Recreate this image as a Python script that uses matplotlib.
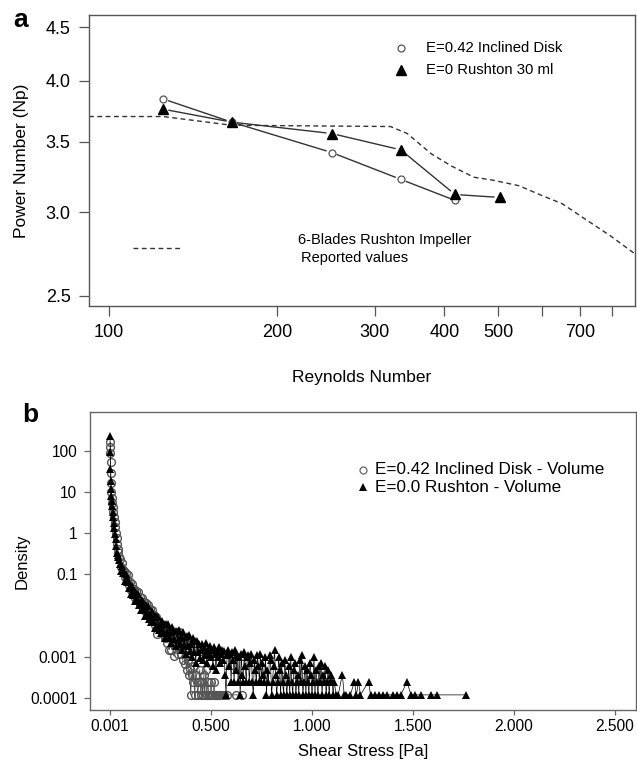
import numpy as np
import matplotlib
matplotlib.use("Agg")
import matplotlib.pyplot as plt
from matplotlib.ticker import FixedLocator, FixedFormatter, NullLocator

plt.rcParams['font.family'] = ['Liberation Sans', 'DejaVu Sans']

# ---- panel a: power number vs Reynolds number ----
disk_re = [125, 166, 251, 334, 418]
disk_np = [3.845, 3.655, 3.42, 3.225, 3.08]
rush_re = [125, 166, 251, 334, 418, 503]
rush_np = [3.76, 3.655, 3.565, 3.44, 3.12, 3.10]
# reported values, 6-blade Rushton impeller
ref_re = [92, 125, 166, 320, 343, 379, 412, 452, 488, 545, 597, 651, 707, 795, 880]
ref_np = [3.70, 3.70, 3.63, 3.62, 3.565, 3.41, 3.32, 3.24, 3.22, 3.18, 3.115, 3.058, 2.97, 2.85, 2.74]
re_ticks = [100, 200, 300, 400, 500, 600, 700, 800]
re_labels = ['100', '200', '300', '400', '500', '', '700', '']
np_ticks = [2.5, 3.0, 3.5, 4.0, 4.5]

# ---- panel b: shear stress density (E=0.42 inclined disk) ----
disk_x = [0.001, 0.002, 0.003, 0.004, 0.005, 0.006, 0.008, 0.010, 0.012, 0.015,
          0.018, 0.021, 0.024, 0.027, 0.030, 0.033, 0.036, 0.039, 0.042, 0.046,
          0.050, 0.055, 0.060, 0.065, 0.070, 0.075, 0.080, 0.085, 0.090, 0.095,
          0.100, 0.105, 0.110, 0.115, 0.120, 0.125, 0.130, 0.135, 0.140, 0.145,
          0.150, 0.155, 0.160, 0.165, 0.170, 0.175, 0.180, 0.185, 0.190, 0.195,
          0.200, 0.205, 0.210, 0.215, 0.220, 0.225, 0.230, 0.235, 0.240, 0.245,
          0.250, 0.255, 0.260, 0.265, 0.270, 0.275, 0.280, 0.285, 0.290, 0.295,
          0.300, 0.305, 0.310, 0.315, 0.320, 0.325, 0.330, 0.335, 0.340, 0.345,
          0.350, 0.355, 0.360, 0.365, 0.370, 0.375, 0.380, 0.385, 0.390, 0.395,
          0.400, 0.405, 0.410, 0.415, 0.420, 0.425, 0.430, 0.435, 0.440, 0.445,
          0.450, 0.455, 0.460, 0.465, 0.470, 0.475, 0.480, 0.485, 0.490, 0.495,
          0.500, 0.505, 0.510, 0.515, 0.520, 0.525, 0.530, 0.535, 0.540, 0.545,
          0.555, 0.565, 0.580, 0.625, 0.655]
disk_d = [160, 125, 85, 52, 29, 16, 10, 7.0, 5.5, 4.2,
          3.3, 2.5, 1.9, 1.4, 1.0, 0.75, 0.55, 0.42, 0.34, 0.27,
          0.23, 0.15, 0.19, 0.13, 0.12, 0.085, 0.108, 0.076, 0.094, 0.056,
          0.064, 0.042, 0.059, 0.039, 0.043, 0.027, 0.040, 0.026, 0.038, 0.023,
          0.029, 0.018, 0.027, 0.0167, 0.021, 0.0128, 0.0199, 0.0133, 0.0179, 0.0103,
          0.0144, 0.0090, 0.0135, 0.0082, 0.0104, 0.0059, 0.0094, 0.0036, 0.0075, 0.0047,
          0.0062, 0.0044, 0.0058, 0.0035, 0.0050, 0.0028, 0.0046, 0.0022, 0.0040, 0.0015,
          0.0038, 0.0015, 0.0032, 0.00105, 0.0028, 0.0019, 0.0025, 0.0012, 0.0039, 0.0016,
          0.0012, 0.0021, 0.00085, 0.0018, 0.00066, 0.0011, 0.00049, 0.00085, 0.00037, 0.0005,
          0.00012, 0.00037, 0.00025, 0.00061, 0.00012, 0.00037, 0.00025, 0.00012, 0.00025, 0.00049,
          0.00012, 0.00025, 0.00012, 0.00037, 0.00012, 0.00049, 0.00012, 0.00025, 0.00012, 0.00012,
          0.00025, 0.00012, 0.00012, 0.00025, 0.00012, 0.00012, 0.00012, 0.00012, 0.00012, 0.00012,
          0.00012, 0.00012, 0.00012, 0.00012, 0.00012]

# ---- panel b: shear stress density (E=0 Rushton) ----
rush_x = [0.001, 0.002, 0.003, 0.004, 0.005, 0.007, 0.009, 0.011, 0.014, 0.017,
          0.020, 0.023, 0.026, 0.029, 0.032, 0.035, 0.038, 0.041, 0.045,
          0.050, 0.055, 0.060, 0.065, 0.070, 0.075, 0.080, 0.085, 0.090, 0.095,
          0.100, 0.105, 0.110, 0.115, 0.120, 0.125, 0.130, 0.135, 0.140, 0.145,
          0.150, 0.155, 0.160, 0.165, 0.170, 0.175, 0.180, 0.185, 0.190, 0.195,
          0.200, 0.205, 0.210, 0.215, 0.220, 0.225, 0.230, 0.235, 0.240, 0.245,
          0.250, 0.255, 0.260, 0.265, 0.270, 0.275, 0.280, 0.285, 0.290, 0.295,
          0.300, 0.305, 0.310, 0.315, 0.320, 0.325, 0.330, 0.335, 0.340, 0.345,
          0.350, 0.355, 0.360, 0.365, 0.370, 0.375, 0.380, 0.385, 0.390, 0.395,
          0.400, 0.405, 0.410, 0.415, 0.420, 0.425, 0.430, 0.435, 0.440, 0.445,
          0.450, 0.455, 0.460, 0.465, 0.470, 0.475, 0.480, 0.485, 0.490, 0.495,
          0.500, 0.505, 0.510, 0.515, 0.520, 0.525, 0.530, 0.535, 0.540, 0.545,
          0.550, 0.555, 0.560, 0.565, 0.570, 0.575, 0.580, 0.585, 0.590, 0.595,
          0.600, 0.605, 0.610, 0.615, 0.620, 0.625, 0.630, 0.635, 0.640, 0.645,
          0.650, 0.655, 0.660, 0.665, 0.670, 0.675, 0.680, 0.685, 0.690, 0.695,
          0.700, 0.705, 0.710, 0.715, 0.720, 0.725, 0.730, 0.735, 0.740, 0.745,
          0.750, 0.755, 0.760, 0.765, 0.770, 0.775, 0.780, 0.785, 0.790, 0.795,
          0.800, 0.805, 0.810, 0.815, 0.820, 0.825, 0.830, 0.835, 0.840, 0.845,
          0.850, 0.855, 0.860, 0.865, 0.870, 0.875, 0.880, 0.885, 0.890, 0.895,
          0.900, 0.905, 0.910, 0.915, 0.920, 0.925, 0.930, 0.935, 0.940, 0.945,
          0.950, 0.955, 0.960, 0.965, 0.970, 0.975, 0.980, 0.985, 0.990, 0.995,
          1.000, 1.005, 1.010, 1.015, 1.020, 1.025, 1.030, 1.035, 1.040, 1.045,
          1.050, 1.055, 1.060, 1.065, 1.070, 1.075, 1.080, 1.085, 1.090, 1.095,
          1.100, 1.105, 1.110, 1.120, 1.130, 1.150, 1.160, 1.170, 1.190, 1.210,
          1.220, 1.230, 1.240, 1.280, 1.290, 1.310, 1.330, 1.350, 1.370, 1.400,
          1.420, 1.440, 1.470, 1.490, 1.510, 1.540, 1.590, 1.620, 1.760]
rush_d = [220, 95, 35, 18, 12, 8.0, 6.0, 4.5, 3.2, 2.4,
          1.8, 1.3, 0.95, 0.70, 0.50, 0.33, 0.30, 0.26, 0.22,
          0.18, 0.124, 0.162, 0.106, 0.114, 0.069, 0.103, 0.066, 0.075, 0.046,
          0.049, 0.034, 0.053, 0.031, 0.039, 0.022, 0.036, 0.024, 0.034, 0.018,
          0.021, 0.0137, 0.0243, 0.0145, 0.0192, 0.0096, 0.0179, 0.0116, 0.0168, 0.0084,
          0.0105, 0.0069, 0.0129, 0.0069, 0.0097, 0.0049, 0.0096, 0.0057, 0.0091, 0.0044,
          0.0060, 0.0037, 0.0076, 0.0041, 0.0061, 0.0028, 0.0061, 0.0037, 0.0062, 0.0028,
          0.0039, 0.0022, 0.0052, 0.0027, 0.0043, 0.0018, 0.0043, 0.0026, 0.0045, 0.0020,
          0.0028, 0.0015, 0.0039, 0.0019, 0.0031, 0.0012, 0.0032, 0.0018, 0.0033, 0.0014,
          0.0021, 0.0010, 0.0029, 0.0013, 0.0024, 0.00072, 0.0024, 0.00135, 0.0020, 0.00094,
          0.0015, 0.0020, 0.00085, 0.0017, 0.0011, 0.0022, 0.00073, 0.0015, 0.0012, 0.0018,
          0.00098, 0.0015, 0.00061, 0.0017, 0.0012, 0.00049, 0.0014, 0.0010, 0.0017, 0.00073,
          0.0012, 0.0015, 0.00085, 0.0014, 0.00037, 0.00012, 0.0011, 0.0015, 0.00061, 0.0012,
          0.00025, 0.0013, 0.00085, 0.00025, 0.0015, 0.00049, 0.0011, 0.00025, 0.00098, 0.00012,
          0.0012, 0.00037, 0.00025, 0.0013, 0.00061, 0.00025, 0.00098, 0.0011, 0.00025, 0.00073,
          0.0012, 0.00025, 0.00012, 0.00085, 0.00049, 0.00025, 0.0011, 0.00061, 0.00025, 0.0012,
          0.00025, 0.00073, 0.00037, 0.00025, 0.00098, 0.00012, 0.00049, 0.00025, 0.0011, 0.00085,
          0.00012, 0.00025, 0.00061, 0.0015, 0.00037, 0.00012, 0.00025, 0.00098, 0.00049, 0.00012,
          0.00073, 0.00025, 0.00012, 0.00085, 0.00037, 0.00012, 0.00025, 0.00061, 0.00012, 0.00098,
          0.00025, 0.00012, 0.00049, 0.00073, 0.00012, 0.00025, 0.00037, 0.00012, 0.00085, 0.00025,
          0.0011, 0.00012, 0.00025, 0.00061, 0.00012, 0.00049, 0.00025, 0.00012, 0.00073, 0.00037,
          0.00012, 0.00025, 0.00098, 0.00012, 0.00049, 0.00025, 0.00012, 0.00061, 0.00025, 0.00073,
          0.00012, 0.00037, 0.00025, 0.00061, 0.00012, 0.00025, 0.00049, 0.00012, 0.00025, 0.00037,
          0.00025, 0.00012, 0.00025, 0.00012, 0.00012, 0.00037, 0.00012, 0.00012, 0.00012, 0.00025,
          0.00012, 0.00025, 0.00012, 0.00025, 0.00012, 0.00012, 0.00012, 0.00012, 0.00012, 0.00012,
          0.00012, 0.00012, 0.00025, 0.00012, 0.00012, 0.00012, 0.00012, 0.00012, 0.00012]
shear_ticks = [0.001, 0.5, 1.0, 1.5, 2.0, 2.5]
shear_labels = ['0.001', '0.500', '1.000', '1.500', '2.000', '2.500']
dens_ticks = [100, 10, 1, 0.1, 0.001, 0.0001]
dens_labels = ['100', '10', '1', '0.1', '0.001', '0.0001']


def style_frame(ax, color):
    for s in ax.spines.values():
        s.set_color(color)
        s.set_linewidth(1.0)
    ax.tick_params(axis='both', which='both', color=color, labelcolor='black')


def gapped_line(ax, xs, ys, gap, **kw):
    # R type="b": segments stop short of the points
    pts = ax.transData.transform(np.column_stack([xs, ys]))
    inv = ax.transData.inverted()
    for p, q in zip(pts[:-1], pts[1:]):
        d = q - p
        u = d / np.hypot(*d)
        seg = inv.transform(np.array([p + u * gap, q - u * gap]))
        ax.plot(seg[:, 0], seg[:, 1], **kw)


fig = plt.figure(figsize=(6.37, 7.64), dpi=100)

# ---------------- panel a ----------------
ax1 = fig.add_axes([0.1397, 0.5995, 0.8572, 0.3809])
ax1.set_xscale('log')
ax1.set_yscale('log')
ax1.set_xlim(92, 880)
ax1.set_ylim(2.445, 4.62)
ax1.xaxis.set_major_locator(FixedLocator(re_ticks))
ax1.xaxis.set_major_formatter(FixedFormatter(re_labels))
ax1.xaxis.set_minor_locator(NullLocator())
ax1.yaxis.set_major_locator(FixedLocator(np_ticks))
ax1.yaxis.set_major_formatter(FixedFormatter(['%.1f' % v for v in np_ticks]))
ax1.yaxis.set_minor_locator(NullLocator())
ax1.tick_params(axis='both', length=7.2, width=0.9, labelsize=13, pad=6)
style_frame(ax1, '#555555')

ax1.plot(ref_re, ref_np, color='#333333', lw=1.0, ls=(0, (3.5, 2.5)))
gapped_line(ax1, disk_re, disk_np, 6, color='#333333', lw=1.0)
gapped_line(ax1, rush_re, rush_np, 6, color='#333333', lw=1.0)
ax1.plot(disk_re, disk_np, 'o', ms=5, mfc='white', mec='#555555', mew=0.9)
ax1.plot(rush_re, rush_np, '^', ms=7.5, color='black')

ax1.set_xlabel('Reynolds Number', fontsize=12.5)
ax1.set_ylabel('Power Number (Np)', fontsize=12.5)
ax1.xaxis.set_label_coords(0.5, -0.22)
ax1.yaxis.set_label_coords(-0.1095, 0.5)

# legend
ax1.plot([0.572], [0.888], 'o', ms=5, mfc='white', mec='#555555', mew=0.9,
         transform=ax1.transAxes)
ax1.plot([0.572], [0.811], '^', ms=7.5, color='black', transform=ax1.transAxes)
ax1.text(0.617, 0.888, 'E=0.42 Inclined Disk', transform=ax1.transAxes,
         fontsize=10.7, va='center', ha='left')
ax1.text(0.617, 0.811, 'E=0 Rushton 30 ml', transform=ax1.transAxes,
         fontsize=10.7, va='center', ha='left')
ax1.plot([0.080, 0.173], [0.198, 0.198], color='#333333', lw=1.0,
         ls=(0, (3.5, 2.5)), transform=ax1.transAxes)
ax1.text(0.382, 0.227, '6-Blades Rushton Impeller', transform=ax1.transAxes,
         fontsize=10.5, va='center', ha='left')
ax1.text(0.389, 0.164, 'Reported values', transform=ax1.transAxes,
         fontsize=10.5, va='center', ha='left')

fig.text(0.033, 0.974, 'a', fontsize=19, fontweight='bold', ha='center', va='center')

# ---------------- panel b ----------------
ax2 = fig.add_axes([0.1407, 0.0704, 0.8573, 0.3903])
ax2.set_yscale('log')
ax2.set_xlim(-0.100, 2.602)
ax2.set_ylim(5.1e-5, 860)
ax2.xaxis.set_major_locator(FixedLocator(shear_ticks))
ax2.xaxis.set_major_formatter(FixedFormatter(shear_labels))
ax2.yaxis.set_major_locator(FixedLocator(dens_ticks))
ax2.yaxis.set_major_formatter(FixedFormatter(dens_labels))
ax2.yaxis.set_minor_locator(NullLocator())
ax2.tick_params(axis='y', length=4.3, width=0.9, labelsize=11.2, pad=4.5)
ax2.tick_params(axis='x', length=3.6, width=0.9, labelsize=11.2, pad=2.5)
style_frame(ax2, '#666666')

ax2.plot(disk_x, disk_d, '-', color='#333333', lw=0.5)
ax2.plot(disk_x, disk_d, 'o', ms=5.6, mfc='none', mec='#555555', mew=1.0)
ax2.plot(rush_x, rush_d, '-', color='black', lw=0.5)
ax2.plot(rush_x, rush_d, '^', ms=6.4, color='black', mew=0)

ax2.set_xlabel('Shear Stress [Pa]', fontsize=12)
ax2.set_ylabel('Density', fontsize=12)
ax2.xaxis.set_label_coords(0.5, -0.113)
ax2.yaxis.set_label_coords(-0.1105, 0.5)

ax2.plot([0.500], [0.806], 'o', ms=5, mfc='none', mec='#666666', mew=0.9,
         transform=ax2.transAxes)
ax2.plot([0.500], [0.748], '^', ms=5.5, color='black', mew=0, transform=ax2.transAxes)
ax2.text(0.5226, 0.806, 'E=0.42 Inclined Disk - Volume', transform=ax2.transAxes,
         fontsize=12.3, va='center', ha='left')
ax2.text(0.5226, 0.748, 'E=0.0 Rushton - Volume', transform=ax2.transAxes,
         fontsize=12.3, va='center', ha='left')

fig.text(0.048, 0.457, 'b', fontsize=19, fontweight='bold', ha='center', va='center')

fig.savefig('out.png', dpi=100)
